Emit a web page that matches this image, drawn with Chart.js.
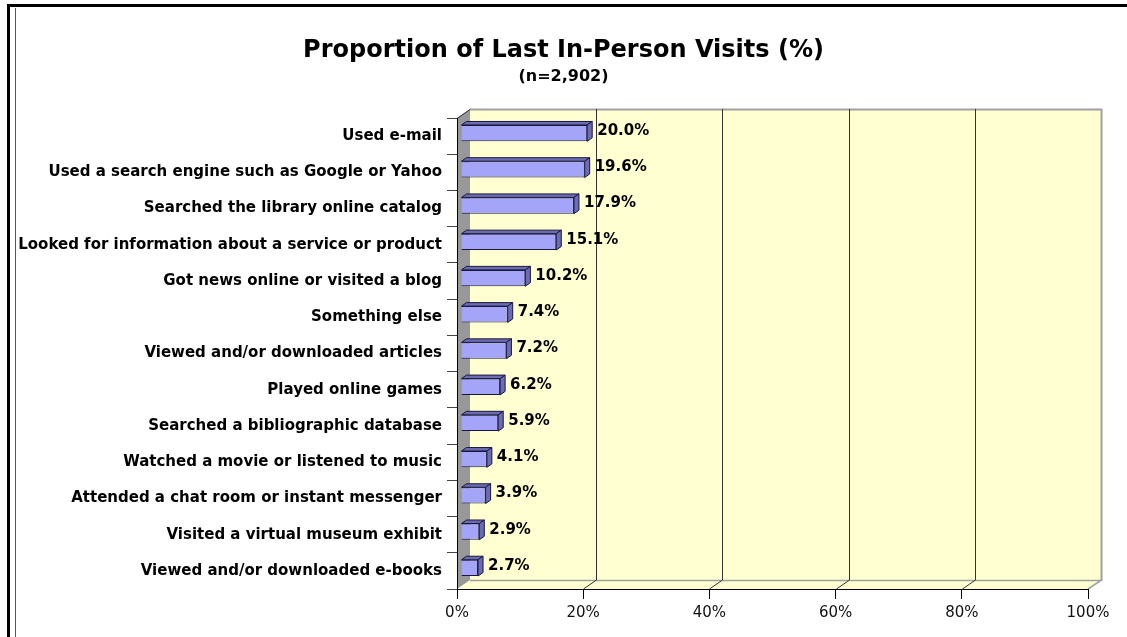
<!DOCTYPE html>
<html>
<head>
<meta charset="utf-8">
<script src="https://cdn.jsdelivr.net/npm/chart.js@4.4.1/dist/chart.umd.min.js"></script>
<style>
    body { margin: 0; background: #fff; }
    #wrap { width: 1127px; height: 637px; }
</style>
</head>
<body>
<div id="wrap"><canvas id="myChart" width="1127" height="637"></canvas></div>
<script>
const activities = [
    "Used e-mail",
    "Used a search engine such as Google or Yahoo",
    "Searched the library online catalog",
    "Looked for information about a service or product",
    "Got news online or visited a blog",
    "Something else",
    "Viewed and/or downloaded articles",
    "Played online games",
    "Searched a bibliographic database",
    "Watched a movie or listened to music",
    "Attended a chat room or instant messenger",
    "Visited a virtual museum exhibit",
    "Viewed and/or downloaded e-books"
];
const percents = [20.0, 19.6, 17.9, 15.1, 10.2, 7.4, 7.2, 6.2, 5.9, 4.1, 3.9, 2.9, 2.7];
const xTickValues = [0, 20, 40, 60, 80, 100];

const titleText = "Proportion of Last In-Person Visits (%)";
const subtitleText = "(n=2,902)";

// depth of the 3d box and of the bars
const depthX = 13, depthY = 9;
const barShiftX = 4, barShiftY = -3;
const barDepthX = 5, barDepthY = 3.5;

const wallFill = '#ffffd2';
const barFront = '#a4a4f8';
const barSide = '#6c6cb4';
const barLine = '#18183c';

const walls3d = {
    id: 'walls3d',
    beforeDraw(chart) {
        const ctx = chart.ctx;
        const a = chart.chartArea;
        const xs = chart.scales.x;
        ctx.save();
        // frame round the picture
        ctx.fillStyle = '#000';
        ctx.fillRect(7, 4, 3, 640);
        ctx.fillRect(7, 4, 1127, 3);
        ctx.fillStyle = '#555';
        ctx.fillRect(15, 8, 1, 640);

        let bx0 = a.left + depthX, bx1 = a.right + depthX;
        let by0 = a.top - depthY, by1 = a.bottom - depthY;

        // back wall
        ctx.fillStyle = wallFill;
        ctx.fillRect(bx0, by0, bx1 - bx0, by1 - by0);
        ctx.strokeStyle = '#a0a0a0';
        ctx.lineWidth = 2;
        ctx.beginPath();
        ctx.moveTo(bx0, by0 + 0.5);
        ctx.lineTo(bx1 + 0.5, by0 + 0.5);
        ctx.lineTo(bx1 + 0.5, by1);
        ctx.stroke();

        // floor
        ctx.fillStyle = wallFill;
        ctx.beginPath();
        ctx.moveTo(a.left, a.bottom);
        ctx.lineTo(a.right, a.bottom);
        ctx.lineTo(bx1, by1);
        ctx.lineTo(bx0, by1);
        ctx.closePath();
        ctx.fill();
        ctx.lineWidth = 1.5;
        ctx.strokeStyle = '#a0a0a0';
        ctx.beginPath();
        ctx.moveTo(bx0, by1 + 0.5);
        ctx.lineTo(bx1, by1 + 0.5);
        ctx.lineTo(a.right, a.bottom);
        ctx.stroke();

        // grid lines on the back wall and floor
        ctx.lineWidth = 1;
        ctx.strokeStyle = '#333';
        for (let i = 1; i < xTickValues.length - 1; i++) {
            let px = Math.round(xs.getPixelForValue(xTickValues[i]));
            ctx.beginPath();
            ctx.moveTo(px + depthX + 0.5, by0);
            ctx.lineTo(px + depthX + 0.5, by1);
            ctx.moveTo(px + depthX + 0.5, by1);
            ctx.lineTo(px + 0.5, a.bottom);
            ctx.stroke();
        }

        // left wall
        ctx.fillStyle = '#989898';
        ctx.beginPath();
        ctx.moveTo(a.left, a.top);
        ctx.lineTo(bx0, by0);
        ctx.lineTo(bx0, by1);
        ctx.lineTo(a.left, a.bottom);
        ctx.closePath();
        ctx.fill();
        ctx.strokeStyle = '#333';
        ctx.beginPath();
        ctx.moveTo(a.left, a.top + 0.5);
        ctx.lineTo(bx0, by0 + 0.5);
        ctx.stroke();
        ctx.restore();
    }
};

const bars3d = {
    id: 'bars3d',
    beforeDatasetsDraw(chart) {
        chart.ctx.save();
        chart.ctx.translate(barShiftX, barShiftY);
    },
    afterDatasetsDraw(chart) {
        const ctx = chart.ctx;
        const meta = chart.getDatasetMeta(0);
        ctx.lineWidth = 1;
        ctx.strokeStyle = barLine;
        meta.data.forEach((bar, i) => {
            let top = bar.y - bar.height / 2;
            let bottom = bar.y + bar.height / 2;
            let left = bar.base, right = bar.x;
            ctx.fillStyle = barSide;
            // top face
            ctx.beginPath();
            ctx.moveTo(left, top);
            ctx.lineTo(left + barDepthX, top - barDepthY);
            ctx.lineTo(right + barDepthX, top - barDepthY);
            ctx.lineTo(right, top);
            ctx.closePath();
            ctx.fill();
            ctx.stroke();
            // side face
            ctx.beginPath();
            ctx.moveTo(right, top);
            ctx.lineTo(right + barDepthX, top - barDepthY);
            ctx.lineTo(right + barDepthX, bottom - barDepthY);
            ctx.lineTo(right, bottom);
            ctx.closePath();
            ctx.fill();
            ctx.stroke();

            ctx.fillStyle = '#000';
            ctx.font = 'bold 15px "DejaVu Sans"';
            ctx.textAlign = 'left';
            ctx.textBaseline = 'middle';
            ctx.fillText(percents[i].toFixed(1) + '%', right + barDepthX + 5, bar.y - 2);
        });
        ctx.restore();
    }
};

new Chart("myChart", {
    type: "bar",
    data: {
        labels: activities,
        datasets: [{
            data: percents,
            backgroundColor: barFront,
            borderColor: barLine,
            borderWidth: 1,
            barPercentage: 0.45,
            categoryPercentage: 1
        }]
    },
    plugins: [walls3d, bars3d],
    options: {
        indexAxis: 'y',
        responsive: false,
        animation: false,
        layout: { padding: 0 },
        plugins: {
            legend: { display: false },
            tooltip: { enabled: false },
            title: {
                display: true,
                text: titleText,
                color: '#000',
                font: { family: 'DejaVu Sans', size: 24, weight: 'bold' },
                padding: { top: 36, bottom: 0 }
            },
            subtitle: {
                display: true,
                text: subtitleText,
                color: '#000',
                font: { family: 'DejaVu Sans', size: 16, weight: 'bold' },
                padding: { top: 2, bottom: 32 }
            }
        },
        scales: {
            x: {
                min: 0,
                max: 100,
                afterFit: function (scale) { scale.height = 48; },
                afterBuildTicks: function (scale) {
                    scale.ticks = xTickValues.map((v) => ({ value: v }));
                },
                grid: { drawOnChartArea: false, drawTicks: true, tickLength: 10, color: '#000' },
                border: { display: true, color: '#000', width: 1 },
                ticks: {
                    color: '#111',
                    padding: 5,
                    font: { family: 'DejaVu Sans', size: 15 },
                    callback: (v) => v + '%'
                }
            },
            y: {
                afterFit: function (scale) { scale.width = 457; },
                grid: { drawOnChartArea: false, drawTicks: true, tickLength: 10, color: '#444', offset: true },
                border: { display: true, color: '#000', width: 1 },
                ticks: {
                    color: '#000',
                    padding: 5,
                    autoSkip: false,
                    font: { family: 'DejaVu Sans', size: 15, weight: 'bold' }
                }
            },
            // empty axis on the right, only keeps room for the 3d depth
            yRight: {
                type: 'linear',
                axis: 'y',
                position: 'right',
                afterFit: function (scale) { scale.width = 39; },
                grid: { display: false },
                border: { display: false },
                ticks: { display: false }
            }
        }
    }
});
</script>
</body>
</html>
